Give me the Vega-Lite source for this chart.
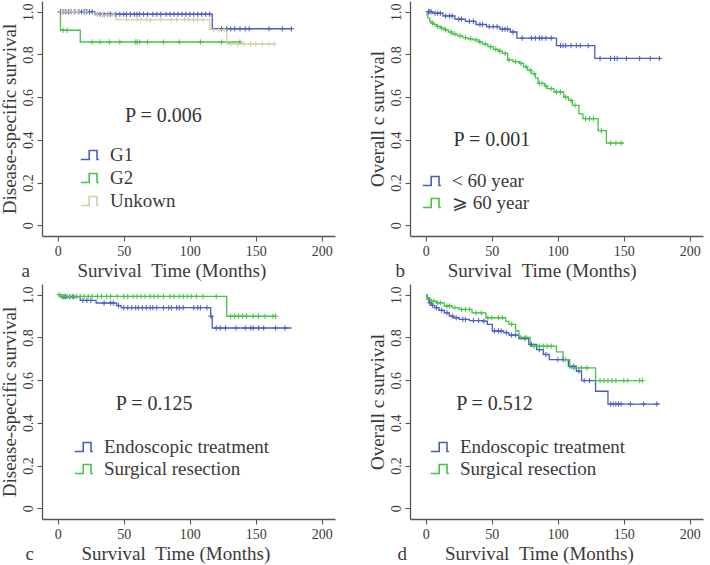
{
  "$schema": "https://vega.github.io/schema/vega-lite/v6.json",
  "padding": {"left": 0, "top": 1, "right": 2, "bottom": 2},
  "background": "white",
  "bounds": "flush",
  "columns": 2,
  "spacing": {"row": 48, "column": 75},
  "config": {
    "view": {"stroke": null},
    "font": "Liberation Serif",
    "axis": {
      "grid": false,
      "labelFont": "Liberation Serif",
      "labelFontSize": 14,
      "labelColor": "#3a3a3a",
      "titleFont": "Liberation Serif",
      "titleFontWeight": "normal",
      "titleColor": "#3a3a3a",
      "domainColor": "#555555",
      "domainWidth": 1.3,
      "tickColor": "#555555",
      "tickWidth": 1.1,
      "tickSize": 5
    },
    "legend": {
      "labelFont": "Liberation Serif",
      "labelFontSize": 19,
      "labelColor": "#3a3a3a",
      "labelLimit": 0,
      "symbolType": "M-1,0.4H-0.25V-0.4H0.45V0.4H0.62",
      "symbolSize": 500,
      "symbolStrokeWidth": 1.6,
      "symbolFillColor": "transparent",
      "rowPadding": 3,
      "labelOffset": 6
    }
  },
  "resolve": {"scale": {"color": "independent"}, "legend": {"color": "independent"}},
  "datasets": {
    "a_lines": [
      {"t": 0, "s": 1.0, "g": "G1"}, {"t": 28, "s": 0.988, "g": "G1"}, {"t": 117, "s": 0.92, "g": "G1"}, {"t": 177, "s": 0.92, "g": "G1"},
      {"t": 0, "s": 1.0, "g": "G2"}, {"t": 2, "s": 0.913, "g": "G2"}, {"t": 17, "s": 0.858, "g": "G2"}, {"t": 138, "s": 0.858, "g": "G2"},
      {"t": 0, "s": 1.0, "g": "Unkown"}, {"t": 28, "s": 0.985, "g": "Unkown"}, {"t": 44, "s": 0.963, "g": "Unkown"}, {"t": 115, "s": 0.916, "g": "Unkown"}, {"t": 128, "s": 0.849, "g": "Unkown"}, {"t": 164, "s": 0.849, "g": "Unkown"}
    ],
    "a_cens": [
      {"t": 2, "s": 1.0, "g": "G1"}, {"t": 4, "s": 1.0, "g": "G1"}, {"t": 6, "s": 1.0, "g": "G1"}, {"t": 8, "s": 1.0, "g": "G1"}, {"t": 10, "s": 1.0, "g": "G1"}, {"t": 13, "s": 1.0, "g": "G1"}, {"t": 16, "s": 1.0, "g": "G1"}, {"t": 18, "s": 1.0, "g": "G1"}, {"t": 20, "s": 1.0, "g": "G1"}, {"t": 22, "s": 1.0, "g": "G1"}, {"t": 24, "s": 1.0, "g": "G1"}, {"t": 26, "s": 1.0, "g": "G1"},
      {"t": 30, "s": 0.988, "g": "G1"}, {"t": 32, "s": 0.988, "g": "G1"}, {"t": 35, "s": 0.988, "g": "G1"}, {"t": 38, "s": 0.988, "g": "G1"}, {"t": 40, "s": 0.988, "g": "G1"}, {"t": 44, "s": 0.988, "g": "G1"}, {"t": 47, "s": 0.988, "g": "G1"}, {"t": 50, "s": 0.988, "g": "G1"}, {"t": 52, "s": 0.988, "g": "G1"}, {"t": 55, "s": 0.988, "g": "G1"}, {"t": 58, "s": 0.988, "g": "G1"}, {"t": 60, "s": 0.988, "g": "G1"}, {"t": 62, "s": 0.988, "g": "G1"}, {"t": 65, "s": 0.988, "g": "G1"}, {"t": 68, "s": 0.988, "g": "G1"}, {"t": 72, "s": 0.988, "g": "G1"}, {"t": 75, "s": 0.988, "g": "G1"}, {"t": 78, "s": 0.988, "g": "G1"}, {"t": 82, "s": 0.988, "g": "G1"}, {"t": 85, "s": 0.988, "g": "G1"}, {"t": 88, "s": 0.988, "g": "G1"}, {"t": 91, "s": 0.988, "g": "G1"}, {"t": 94, "s": 0.988, "g": "G1"}, {"t": 97, "s": 0.988, "g": "G1"}, {"t": 100, "s": 0.988, "g": "G1"}, {"t": 103, "s": 0.988, "g": "G1"}, {"t": 106, "s": 0.988, "g": "G1"}, {"t": 109, "s": 0.988, "g": "G1"}, {"t": 112, "s": 0.988, "g": "G1"}, {"t": 115, "s": 0.988, "g": "G1"},
      {"t": 124, "s": 0.92, "g": "G1"}, {"t": 128, "s": 0.92, "g": "G1"}, {"t": 131, "s": 0.92, "g": "G1"}, {"t": 134, "s": 0.92, "g": "G1"}, {"t": 138, "s": 0.92, "g": "G1"}, {"t": 142, "s": 0.92, "g": "G1"}, {"t": 145, "s": 0.92, "g": "G1"}, {"t": 160, "s": 0.92, "g": "G1"}, {"t": 170, "s": 0.92, "g": "G1"}, {"t": 177, "s": 0.92, "g": "G1"},
      {"t": 4, "s": 0.913, "g": "G2"}, {"t": 7, "s": 0.913, "g": "G2"},
      {"t": 26, "s": 0.858, "g": "G2"}, {"t": 32, "s": 0.858, "g": "G2"}, {"t": 39, "s": 0.858, "g": "G2"}, {"t": 47, "s": 0.858, "g": "G2"}, {"t": 59, "s": 0.858, "g": "G2"}, {"t": 60, "s": 0.858, "g": "G2"}, {"t": 62, "s": 0.858, "g": "G2"}, {"t": 68, "s": 0.858, "g": "G2"}, {"t": 80, "s": 0.858, "g": "G2"}, {"t": 92, "s": 0.858, "g": "G2"}, {"t": 108, "s": 0.858, "g": "G2"}, {"t": 124, "s": 0.858, "g": "G2"}, {"t": 138, "s": 0.858, "g": "G2"},
      {"t": 3, "s": 1.0, "g": "Unkown"}, {"t": 5, "s": 1.0, "g": "Unkown"}, {"t": 9, "s": 1.0, "g": "Unkown"}, {"t": 12, "s": 1.0, "g": "Unkown"}, {"t": 15, "s": 1.0, "g": "Unkown"}, {"t": 21, "s": 1.0, "g": "Unkown"},
      {"t": 30, "s": 0.985, "g": "Unkown"}, {"t": 34, "s": 0.985, "g": "Unkown"}, {"t": 38, "s": 0.985, "g": "Unkown"}, {"t": 42, "s": 0.985, "g": "Unkown"},
      {"t": 52, "s": 0.963, "g": "Unkown"}, {"t": 60, "s": 0.963, "g": "Unkown"}, {"t": 63, "s": 0.963, "g": "Unkown"}, {"t": 67, "s": 0.963, "g": "Unkown"}, {"t": 70, "s": 0.963, "g": "Unkown"}, {"t": 78, "s": 0.963, "g": "Unkown"}, {"t": 86, "s": 0.963, "g": "Unkown"}, {"t": 90, "s": 0.963, "g": "Unkown"}, {"t": 96, "s": 0.963, "g": "Unkown"}, {"t": 99, "s": 0.963, "g": "Unkown"}, {"t": 103, "s": 0.963, "g": "Unkown"}, {"t": 106, "s": 0.963, "g": "Unkown"}, {"t": 110, "s": 0.963, "g": "Unkown"},
      {"t": 118, "s": 0.916, "g": "Unkown"}, {"t": 122, "s": 0.916, "g": "Unkown"}, {"t": 126, "s": 0.916, "g": "Unkown"},
      {"t": 131, "s": 0.849, "g": "Unkown"}, {"t": 136, "s": 0.849, "g": "Unkown"}, {"t": 141, "s": 0.849, "g": "Unkown"}, {"t": 146, "s": 0.849, "g": "Unkown"}, {"t": 150, "s": 0.849, "g": "Unkown"}, {"t": 155, "s": 0.849, "g": "Unkown"}, {"t": 160, "s": 0.849, "g": "Unkown"}, {"t": 164, "s": 0.849, "g": "Unkown"}
    ],
    "b_lines": [
      {"t": 0, "s": 1.0, "g": "< 60 year"}, {"t": 5, "s": 0.993, "g": "< 60 year"}, {"t": 13, "s": 0.98, "g": "< 60 year"}, {"t": 22, "s": 0.965, "g": "< 60 year"}, {"t": 30, "s": 0.955, "g": "< 60 year"}, {"t": 38, "s": 0.94, "g": "< 60 year"}, {"t": 46, "s": 0.93, "g": "< 60 year"}, {"t": 56, "s": 0.918, "g": "< 60 year"}, {"t": 64, "s": 0.905, "g": "< 60 year"}, {"t": 69, "s": 0.876, "g": "< 60 year"}, {"t": 99, "s": 0.841, "g": "< 60 year"}, {"t": 128, "s": 0.781, "g": "< 60 year"}, {"t": 177, "s": 0.781, "g": "< 60 year"},
      {"t": 0, "s": 1.0, "g": "⩾ 60 year"}, {"t": 1, "s": 0.985, "g": "⩾ 60 year"}, {"t": 1.5, "s": 0.97, "g": "⩾ 60 year"}, {"t": 3, "s": 0.955, "g": "⩾ 60 year"}, {"t": 4, "s": 0.947, "g": "⩾ 60 year"}, {"t": 6, "s": 0.94, "g": "⩾ 60 year"}, {"t": 8, "s": 0.931, "g": "⩾ 60 year"}, {"t": 11, "s": 0.923, "g": "⩾ 60 year"}, {"t": 14, "s": 0.915, "g": "⩾ 60 year"}, {"t": 17, "s": 0.905, "g": "⩾ 60 year"}, {"t": 20, "s": 0.895, "g": "⩾ 60 year"}, {"t": 24, "s": 0.887, "g": "⩾ 60 year"}, {"t": 28, "s": 0.879, "g": "⩾ 60 year"}, {"t": 32, "s": 0.873, "g": "⩾ 60 year"}, {"t": 36, "s": 0.868, "g": "⩾ 60 year"}, {"t": 40, "s": 0.858, "g": "⩾ 60 year"}, {"t": 43, "s": 0.848, "g": "⩾ 60 year"}, {"t": 47, "s": 0.836, "g": "⩾ 60 year"}, {"t": 51, "s": 0.824, "g": "⩾ 60 year"}, {"t": 55, "s": 0.815, "g": "⩾ 60 year"}, {"t": 58, "s": 0.805, "g": "⩾ 60 year"}, {"t": 62, "s": 0.774, "g": "⩾ 60 year"}, {"t": 66, "s": 0.766, "g": "⩾ 60 year"}, {"t": 71, "s": 0.758, "g": "⩾ 60 year"}, {"t": 74, "s": 0.742, "g": "⩾ 60 year"}, {"t": 77, "s": 0.726, "g": "⩾ 60 year"}, {"t": 80, "s": 0.71, "g": "⩾ 60 year"}, {"t": 83, "s": 0.69, "g": "⩾ 60 year"}, {"t": 85, "s": 0.664, "g": "⩾ 60 year"}, {"t": 90, "s": 0.652, "g": "⩾ 60 year"}, {"t": 92, "s": 0.64, "g": "⩾ 60 year"}, {"t": 97, "s": 0.624, "g": "⩾ 60 year"}, {"t": 104.5, "s": 0.6, "g": "⩾ 60 year"}, {"t": 108, "s": 0.585, "g": "⩾ 60 year"}, {"t": 111, "s": 0.561, "g": "⩾ 60 year"}, {"t": 116, "s": 0.522, "g": "⩾ 60 year"}, {"t": 119, "s": 0.499, "g": "⩾ 60 year"}, {"t": 130.5, "s": 0.443, "g": "⩾ 60 year"}, {"t": 136.8, "s": 0.385, "g": "⩾ 60 year"}, {"t": 150, "s": 0.385, "g": "⩾ 60 year"}
    ],
    "b_cens": [
      {"t": 2, "s": 1.0, "g": "< 60 year"}, {"t": 3, "s": 1.0, "g": "< 60 year"}, {"t": 4, "s": 1.0, "g": "< 60 year"}, {"t": 7, "s": 0.993, "g": "< 60 year"}, {"t": 9, "s": 0.993, "g": "< 60 year"}, {"t": 11, "s": 0.993, "g": "< 60 year"}, {"t": 15, "s": 0.98, "g": "< 60 year"}, {"t": 18, "s": 0.98, "g": "< 60 year"}, {"t": 20, "s": 0.98, "g": "< 60 year"}, {"t": 25, "s": 0.965, "g": "< 60 year"}, {"t": 27, "s": 0.965, "g": "< 60 year"}, {"t": 33, "s": 0.955, "g": "< 60 year"}, {"t": 36, "s": 0.955, "g": "< 60 year"}, {"t": 41, "s": 0.94, "g": "< 60 year"}, {"t": 43, "s": 0.94, "g": "< 60 year"}, {"t": 48, "s": 0.93, "g": "< 60 year"}, {"t": 51, "s": 0.93, "g": "< 60 year"}, {"t": 54, "s": 0.93, "g": "< 60 year"}, {"t": 58, "s": 0.918, "g": "< 60 year"}, {"t": 60, "s": 0.918, "g": "< 60 year"}, {"t": 62, "s": 0.918, "g": "< 60 year"}, {"t": 66, "s": 0.905, "g": "< 60 year"},
      {"t": 73, "s": 0.876, "g": "< 60 year"}, {"t": 80, "s": 0.876, "g": "< 60 year"}, {"t": 83, "s": 0.876, "g": "< 60 year"}, {"t": 86, "s": 0.876, "g": "< 60 year"}, {"t": 88, "s": 0.876, "g": "< 60 year"}, {"t": 91, "s": 0.876, "g": "< 60 year"}, {"t": 95, "s": 0.876, "g": "< 60 year"},
      {"t": 102, "s": 0.841, "g": "< 60 year"}, {"t": 104, "s": 0.841, "g": "< 60 year"}, {"t": 106, "s": 0.841, "g": "< 60 year"}, {"t": 110, "s": 0.841, "g": "< 60 year"}, {"t": 114, "s": 0.841, "g": "< 60 year"}, {"t": 117, "s": 0.841, "g": "< 60 year"}, {"t": 123, "s": 0.841, "g": "< 60 year"},
      {"t": 132, "s": 0.781, "g": "< 60 year"}, {"t": 140, "s": 0.781, "g": "< 60 year"}, {"t": 143, "s": 0.781, "g": "< 60 year"}, {"t": 145, "s": 0.781, "g": "< 60 year"}, {"t": 152, "s": 0.781, "g": "< 60 year"}, {"t": 162, "s": 0.781, "g": "< 60 year"}, {"t": 170, "s": 0.781, "g": "< 60 year"}, {"t": 177, "s": 0.781, "g": "< 60 year"},
      {"t": 5, "s": 0.947, "g": "⩾ 60 year"}, {"t": 9, "s": 0.931, "g": "⩾ 60 year"}, {"t": 12, "s": 0.923, "g": "⩾ 60 year"}, {"t": 15, "s": 0.915, "g": "⩾ 60 year"}, {"t": 19, "s": 0.905, "g": "⩾ 60 year"}, {"t": 22, "s": 0.895, "g": "⩾ 60 year"}, {"t": 26, "s": 0.887, "g": "⩾ 60 year"}, {"t": 30, "s": 0.879, "g": "⩾ 60 year"}, {"t": 34, "s": 0.873, "g": "⩾ 60 year"}, {"t": 38, "s": 0.868, "g": "⩾ 60 year"}, {"t": 41, "s": 0.858, "g": "⩾ 60 year"}, {"t": 45, "s": 0.848, "g": "⩾ 60 year"}, {"t": 49, "s": 0.836, "g": "⩾ 60 year"}, {"t": 53, "s": 0.824, "g": "⩾ 60 year"}, {"t": 56, "s": 0.815, "g": "⩾ 60 year"}, {"t": 60, "s": 0.805, "g": "⩾ 60 year"}, {"t": 63, "s": 0.774, "g": "⩾ 60 year"}, {"t": 68, "s": 0.766, "g": "⩾ 60 year"}, {"t": 72, "s": 0.758, "g": "⩾ 60 year"}, {"t": 76, "s": 0.742, "g": "⩾ 60 year"}, {"t": 79, "s": 0.726, "g": "⩾ 60 year"}, {"t": 82, "s": 0.71, "g": "⩾ 60 year"}, {"t": 86, "s": 0.664, "g": "⩾ 60 year"}, {"t": 88, "s": 0.664, "g": "⩾ 60 year"}, {"t": 91, "s": 0.652, "g": "⩾ 60 year"}, {"t": 95, "s": 0.64, "g": "⩾ 60 year"}, {"t": 99, "s": 0.624, "g": "⩾ 60 year"}, {"t": 102, "s": 0.624, "g": "⩾ 60 year"}, {"t": 106, "s": 0.6, "g": "⩾ 60 year"}, {"t": 110, "s": 0.585, "g": "⩾ 60 year"}, {"t": 113, "s": 0.561, "g": "⩾ 60 year"}, {"t": 121, "s": 0.499, "g": "⩾ 60 year"}, {"t": 124, "s": 0.499, "g": "⩾ 60 year"}, {"t": 127, "s": 0.499, "g": "⩾ 60 year"}, {"t": 133, "s": 0.443, "g": "⩾ 60 year"}, {"t": 140, "s": 0.385, "g": "⩾ 60 year"}, {"t": 144, "s": 0.385, "g": "⩾ 60 year"}, {"t": 148, "s": 0.385, "g": "⩾ 60 year"}
    ],
    "c_lines": [
      {"t": 0, "s": 1.0, "g": "Endoscopic treatment"}, {"t": 2, "s": 0.99, "g": "Endoscopic treatment"}, {"t": 17, "s": 0.973, "g": "Endoscopic treatment"}, {"t": 29, "s": 0.961, "g": "Endoscopic treatment"}, {"t": 44.5, "s": 0.949, "g": "Endoscopic treatment"}, {"t": 48, "s": 0.939, "g": "Endoscopic treatment"}, {"t": 115.8, "s": 0.899, "g": "Endoscopic treatment"}, {"t": 117, "s": 0.844, "g": "Endoscopic treatment"}, {"t": 177, "s": 0.844, "g": "Endoscopic treatment"},
      {"t": 0, "s": 1.0, "g": "Surgical resection"}, {"t": 2, "s": 0.992, "g": "Surgical resection"}, {"t": 128, "s": 0.899, "g": "Surgical resection"}, {"t": 165, "s": 0.899, "g": "Surgical resection"}
    ],
    "c_cens": [
      {"t": 4, "s": 0.99, "g": "Endoscopic treatment"}, {"t": 6, "s": 0.99, "g": "Endoscopic treatment"}, {"t": 9, "s": 0.99, "g": "Endoscopic treatment"}, {"t": 12, "s": 0.99, "g": "Endoscopic treatment"}, {"t": 19, "s": 0.973, "g": "Endoscopic treatment"}, {"t": 22, "s": 0.973, "g": "Endoscopic treatment"}, {"t": 25, "s": 0.973, "g": "Endoscopic treatment"}, {"t": 35, "s": 0.961, "g": "Endoscopic treatment"}, {"t": 40, "s": 0.961, "g": "Endoscopic treatment"}, {"t": 42, "s": 0.961, "g": "Endoscopic treatment"}, {"t": 46, "s": 0.949, "g": "Endoscopic treatment"},
      {"t": 50, "s": 0.939, "g": "Endoscopic treatment"}, {"t": 53, "s": 0.939, "g": "Endoscopic treatment"}, {"t": 56, "s": 0.939, "g": "Endoscopic treatment"}, {"t": 59, "s": 0.939, "g": "Endoscopic treatment"}, {"t": 61, "s": 0.939, "g": "Endoscopic treatment"}, {"t": 64, "s": 0.939, "g": "Endoscopic treatment"}, {"t": 67, "s": 0.939, "g": "Endoscopic treatment"}, {"t": 70, "s": 0.939, "g": "Endoscopic treatment"}, {"t": 72, "s": 0.939, "g": "Endoscopic treatment"}, {"t": 75, "s": 0.939, "g": "Endoscopic treatment"}, {"t": 80, "s": 0.939, "g": "Endoscopic treatment"}, {"t": 84, "s": 0.939, "g": "Endoscopic treatment"}, {"t": 86, "s": 0.939, "g": "Endoscopic treatment"}, {"t": 90, "s": 0.939, "g": "Endoscopic treatment"}, {"t": 92, "s": 0.939, "g": "Endoscopic treatment"}, {"t": 95, "s": 0.939, "g": "Endoscopic treatment"}, {"t": 103, "s": 0.939, "g": "Endoscopic treatment"}, {"t": 106, "s": 0.939, "g": "Endoscopic treatment"}, {"t": 108, "s": 0.939, "g": "Endoscopic treatment"}, {"t": 113, "s": 0.939, "g": "Endoscopic treatment"}, {"t": 116, "s": 0.899, "g": "Endoscopic treatment"},
      {"t": 120, "s": 0.844, "g": "Endoscopic treatment"}, {"t": 123, "s": 0.844, "g": "Endoscopic treatment"}, {"t": 127, "s": 0.844, "g": "Endoscopic treatment"}, {"t": 135, "s": 0.844, "g": "Endoscopic treatment"}, {"t": 142, "s": 0.844, "g": "Endoscopic treatment"}, {"t": 146, "s": 0.844, "g": "Endoscopic treatment"}, {"t": 148, "s": 0.844, "g": "Endoscopic treatment"}, {"t": 152, "s": 0.844, "g": "Endoscopic treatment"}, {"t": 156, "s": 0.844, "g": "Endoscopic treatment"}, {"t": 165, "s": 0.844, "g": "Endoscopic treatment"}, {"t": 172, "s": 0.844, "g": "Endoscopic treatment"},
      {"t": 1, "s": 1.0, "g": "Surgical resection"}, {"t": 3, "s": 0.992, "g": "Surgical resection"}, {"t": 5, "s": 0.992, "g": "Surgical resection"}, {"t": 7, "s": 0.992, "g": "Surgical resection"}, {"t": 9, "s": 0.992, "g": "Surgical resection"}, {"t": 11, "s": 0.992, "g": "Surgical resection"}, {"t": 14, "s": 0.992, "g": "Surgical resection"}, {"t": 17, "s": 0.992, "g": "Surgical resection"}, {"t": 20, "s": 0.992, "g": "Surgical resection"}, {"t": 23, "s": 0.992, "g": "Surgical resection"}, {"t": 26, "s": 0.992, "g": "Surgical resection"}, {"t": 30, "s": 0.992, "g": "Surgical resection"}, {"t": 33, "s": 0.992, "g": "Surgical resection"}, {"t": 37, "s": 0.992, "g": "Surgical resection"}, {"t": 40, "s": 0.992, "g": "Surgical resection"}, {"t": 45, "s": 0.992, "g": "Surgical resection"}, {"t": 50, "s": 0.992, "g": "Surgical resection"}, {"t": 53, "s": 0.992, "g": "Surgical resection"}, {"t": 57, "s": 0.992, "g": "Surgical resection"}, {"t": 60, "s": 0.992, "g": "Surgical resection"}, {"t": 63, "s": 0.992, "g": "Surgical resection"}, {"t": 66, "s": 0.992, "g": "Surgical resection"}, {"t": 70, "s": 0.992, "g": "Surgical resection"}, {"t": 73, "s": 0.992, "g": "Surgical resection"}, {"t": 76, "s": 0.992, "g": "Surgical resection"}, {"t": 80, "s": 0.992, "g": "Surgical resection"}, {"t": 85, "s": 0.992, "g": "Surgical resection"}, {"t": 88, "s": 0.992, "g": "Surgical resection"}, {"t": 92, "s": 0.992, "g": "Surgical resection"}, {"t": 95, "s": 0.992, "g": "Surgical resection"}, {"t": 98, "s": 0.992, "g": "Surgical resection"}, {"t": 101, "s": 0.992, "g": "Surgical resection"}, {"t": 105, "s": 0.992, "g": "Surgical resection"}, {"t": 110, "s": 0.992, "g": "Surgical resection"}, {"t": 120, "s": 0.992, "g": "Surgical resection"},
      {"t": 131, "s": 0.899, "g": "Surgical resection"}, {"t": 134, "s": 0.899, "g": "Surgical resection"}, {"t": 137, "s": 0.899, "g": "Surgical resection"}, {"t": 140, "s": 0.899, "g": "Surgical resection"}, {"t": 143, "s": 0.899, "g": "Surgical resection"}, {"t": 148, "s": 0.899, "g": "Surgical resection"}, {"t": 152, "s": 0.899, "g": "Surgical resection"}, {"t": 157, "s": 0.899, "g": "Surgical resection"}, {"t": 163, "s": 0.899, "g": "Surgical resection"}, {"t": 165, "s": 0.899, "g": "Surgical resection"}
    ],
    "d_lines": [
      {"t": 0, "s": 1.0, "g": "Endoscopic treatment"}, {"t": 1, "s": 0.985, "g": "Endoscopic treatment"}, {"t": 2.8, "s": 0.962, "g": "Endoscopic treatment"}, {"t": 4, "s": 0.95, "g": "Endoscopic treatment"}, {"t": 6.6, "s": 0.939, "g": "Endoscopic treatment"}, {"t": 10, "s": 0.927, "g": "Endoscopic treatment"}, {"t": 14, "s": 0.915, "g": "Endoscopic treatment"}, {"t": 17.8, "s": 0.9, "g": "Endoscopic treatment"}, {"t": 21, "s": 0.892, "g": "Endoscopic treatment"}, {"t": 25.3, "s": 0.884, "g": "Endoscopic treatment"}, {"t": 33, "s": 0.879, "g": "Endoscopic treatment"}, {"t": 43, "s": 0.876, "g": "Endoscopic treatment"}, {"t": 46.6, "s": 0.861, "g": "Endoscopic treatment"}, {"t": 50.4, "s": 0.83, "g": "Endoscopic treatment"}, {"t": 59, "s": 0.822, "g": "Endoscopic treatment"}, {"t": 63, "s": 0.811, "g": "Endoscopic treatment"}, {"t": 70.4, "s": 0.795, "g": "Endoscopic treatment"}, {"t": 78, "s": 0.767, "g": "Endoscopic treatment"}, {"t": 84, "s": 0.743, "g": "Endoscopic treatment"}, {"t": 89, "s": 0.72, "g": "Endoscopic treatment"}, {"t": 93.5, "s": 0.696, "g": "Endoscopic treatment"}, {"t": 108, "s": 0.665, "g": "Endoscopic treatment"}, {"t": 114, "s": 0.642, "g": "Endoscopic treatment"}, {"t": 118, "s": 0.598, "g": "Endoscopic treatment"}, {"t": 128.6, "s": 0.548, "g": "Endoscopic treatment"}, {"t": 138, "s": 0.488, "g": "Endoscopic treatment"}, {"t": 177, "s": 0.488, "g": "Endoscopic treatment"},
      {"t": 0, "s": 1.0, "g": "Surgical resection"}, {"t": 1, "s": 0.978, "g": "Surgical resection"}, {"t": 4, "s": 0.97, "g": "Surgical resection"}, {"t": 7.8, "s": 0.962, "g": "Surgical resection"}, {"t": 14, "s": 0.947, "g": "Surgical resection"}, {"t": 20, "s": 0.939, "g": "Surgical resection"}, {"t": 25, "s": 0.931, "g": "Surgical resection"}, {"t": 35, "s": 0.915, "g": "Surgical resection"}, {"t": 45.5, "s": 0.892, "g": "Surgical resection"}, {"t": 60.4, "s": 0.875, "g": "Surgical resection"}, {"t": 63, "s": 0.861, "g": "Surgical resection"}, {"t": 68, "s": 0.83, "g": "Surgical resection"}, {"t": 70.5, "s": 0.8, "g": "Surgical resection"}, {"t": 79, "s": 0.759, "g": "Surgical resection"}, {"t": 99, "s": 0.732, "g": "Surgical resection"}, {"t": 104, "s": 0.696, "g": "Surgical resection"}, {"t": 109, "s": 0.657, "g": "Surgical resection"}, {"t": 128.6, "s": 0.598, "g": "Surgical resection"}, {"t": 164, "s": 0.598, "g": "Surgical resection"}
    ],
    "d_cens": [
      {"t": 3, "s": 0.962, "g": "Endoscopic treatment"}, {"t": 5, "s": 0.95, "g": "Endoscopic treatment"}, {"t": 8, "s": 0.939, "g": "Endoscopic treatment"}, {"t": 12, "s": 0.927, "g": "Endoscopic treatment"}, {"t": 16, "s": 0.915, "g": "Endoscopic treatment"}, {"t": 20, "s": 0.9, "g": "Endoscopic treatment"}, {"t": 23, "s": 0.892, "g": "Endoscopic treatment"}, {"t": 28, "s": 0.884, "g": "Endoscopic treatment"}, {"t": 30, "s": 0.884, "g": "Endoscopic treatment"}, {"t": 36, "s": 0.879, "g": "Endoscopic treatment"}, {"t": 40, "s": 0.879, "g": "Endoscopic treatment"}, {"t": 44, "s": 0.876, "g": "Endoscopic treatment"}, {"t": 52, "s": 0.83, "g": "Endoscopic treatment"}, {"t": 55, "s": 0.83, "g": "Endoscopic treatment"}, {"t": 57, "s": 0.83, "g": "Endoscopic treatment"}, {"t": 61, "s": 0.822, "g": "Endoscopic treatment"}, {"t": 65, "s": 0.811, "g": "Endoscopic treatment"}, {"t": 68, "s": 0.811, "g": "Endoscopic treatment"}, {"t": 75, "s": 0.795, "g": "Endoscopic treatment"}, {"t": 80, "s": 0.767, "g": "Endoscopic treatment"}, {"t": 86, "s": 0.743, "g": "Endoscopic treatment"}, {"t": 91, "s": 0.72, "g": "Endoscopic treatment"}, {"t": 100, "s": 0.696, "g": "Endoscopic treatment"}, {"t": 104, "s": 0.696, "g": "Endoscopic treatment"}, {"t": 112, "s": 0.665, "g": "Endoscopic treatment"}, {"t": 116, "s": 0.642, "g": "Endoscopic treatment"}, {"t": 120, "s": 0.598, "g": "Endoscopic treatment"}, {"t": 124, "s": 0.598, "g": "Endoscopic treatment"}, {"t": 140, "s": 0.488, "g": "Endoscopic treatment"}, {"t": 142, "s": 0.488, "g": "Endoscopic treatment"}, {"t": 144, "s": 0.488, "g": "Endoscopic treatment"}, {"t": 146, "s": 0.488, "g": "Endoscopic treatment"}, {"t": 148, "s": 0.488, "g": "Endoscopic treatment"}, {"t": 155, "s": 0.488, "g": "Endoscopic treatment"}, {"t": 165, "s": 0.488, "g": "Endoscopic treatment"}, {"t": 175, "s": 0.488, "g": "Endoscopic treatment"},
      {"t": 2, "s": 0.978, "g": "Surgical resection"}, {"t": 6, "s": 0.97, "g": "Surgical resection"}, {"t": 9, "s": 0.962, "g": "Surgical resection"}, {"t": 11, "s": 0.962, "g": "Surgical resection"}, {"t": 16, "s": 0.947, "g": "Surgical resection"}, {"t": 18, "s": 0.947, "g": "Surgical resection"}, {"t": 22, "s": 0.939, "g": "Surgical resection"}, {"t": 27, "s": 0.931, "g": "Surgical resection"}, {"t": 30, "s": 0.931, "g": "Surgical resection"}, {"t": 33, "s": 0.931, "g": "Surgical resection"}, {"t": 38, "s": 0.915, "g": "Surgical resection"}, {"t": 42, "s": 0.915, "g": "Surgical resection"}, {"t": 47, "s": 0.892, "g": "Surgical resection"}, {"t": 50, "s": 0.892, "g": "Surgical resection"}, {"t": 55, "s": 0.892, "g": "Surgical resection"}, {"t": 58, "s": 0.892, "g": "Surgical resection"}, {"t": 65, "s": 0.861, "g": "Surgical resection"}, {"t": 72, "s": 0.8, "g": "Surgical resection"}, {"t": 76, "s": 0.8, "g": "Surgical resection"}, {"t": 82, "s": 0.759, "g": "Surgical resection"}, {"t": 86, "s": 0.759, "g": "Surgical resection"}, {"t": 89, "s": 0.759, "g": "Surgical resection"}, {"t": 92, "s": 0.759, "g": "Surgical resection"}, {"t": 95, "s": 0.759, "g": "Surgical resection"}, {"t": 106, "s": 0.696, "g": "Surgical resection"}, {"t": 112, "s": 0.657, "g": "Surgical resection"}, {"t": 118, "s": 0.657, "g": "Surgical resection"}, {"t": 122, "s": 0.657, "g": "Surgical resection"}, {"t": 132, "s": 0.598, "g": "Surgical resection"}, {"t": 135, "s": 0.598, "g": "Surgical resection"}, {"t": 138, "s": 0.598, "g": "Surgical resection"}, {"t": 141, "s": 0.598, "g": "Surgical resection"}, {"t": 144, "s": 0.598, "g": "Surgical resection"}, {"t": 150, "s": 0.598, "g": "Surgical resection"}, {"t": 153, "s": 0.598, "g": "Surgical resection"}, {"t": 162, "s": 0.598, "g": "Surgical resection"}, {"t": 164, "s": 0.598, "g": "Surgical resection"}
    ]
  },
  "concat": [
    {
      "width": 293, "height": 235,
      "layer": [
        {
          "data": {"name": "a_lines"},
          "mark": {"type": "line", "interpolate": "step-after", "strokeWidth": 1.3},
          "encoding": {
            "x": {"field": "t", "type": "quantitative", "scale": {"domain": [-12, 210], "nice": false, "zero": false},
                  "axis": {"values": [0, 50, 100, 150, 200], "title": "a\u00a0\u00a0\u00a0\u00a0\u00a0\u00a0\u00a0\u00a0\u00a0\u00a0Survival\u00a0\u00a0Time (Months)", "titleFontSize": 19, "titleX": -21, "titleY": 40, "titleAlign": "left", "titleBaseline": "alphabetic", "labelPadding": 3}},
            "y": {"field": "s", "type": "quantitative", "scale": {"domain": [-0.05, 1.05], "nice": false, "zero": false},
                  "axis": {"values": [0, 0.2, 0.4, 0.6, 0.8, 1.0], "labelExpr": "datum.value == 0 ? '0' : format(datum.value, '.1f')", "labelAngle": -90, "labelAlign": "center", "labelBaseline": "bottom", "labelPadding": 2, "title": "Disease-specific survival", "titleFontSize": 19, "titlePadding": 2}},
            "color": {"field": "g", "type": "nominal", "scale": {"domain": ["G1", "G2", "Unkown"], "range": ["#4a5cc6", "#45c445", "#d6cf9e"]},
                      "legend": {"title": null, "orient": "none", "legendX": 38, "legendY": 142, "rowPadding": 1}}
          }
        },
        {
          "data": {"name": "a_cens"},
          "mark": {"type": "point", "shape": "M0,-1V1M-1,0H1", "filled": false, "size": 28, "strokeWidth": 1, "opacity": 1},
          "encoding": {
            "x": {"field": "t", "type": "quantitative"},
            "y": {"field": "s", "type": "quantitative"},
            "color": {"field": "g", "type": "nominal"}
          }
        },
        {
          "data": {"values": [{"t": 80, "s": 0.51, "label": "P = 0.006"}]},
          "mark": {"type": "text", "font": "Liberation Serif", "fontSize": 20, "color": "#333333"},
          "encoding": {"x": {"field": "t", "type": "quantitative"}, "y": {"field": "s", "type": "quantitative"}, "text": {"field": "label"}}
        }
      ]
    },
    {
      "width": 293, "height": 235,
      "layer": [
        {
          "data": {"name": "b_lines"},
          "mark": {"type": "line", "interpolate": "step-after", "strokeWidth": 1.3},
          "encoding": {
            "x": {"field": "t", "type": "quantitative", "scale": {"domain": [-12, 210], "nice": false, "zero": false},
                  "axis": {"values": [0, 50, 100, 150, 200], "title": "b\u00a0\u00a0\u00a0\u00a0\u00a0\u00a0\u00a0\u00a0\u00a0Survival\u00a0\u00a0Time (Months)", "titleFontSize": 19, "titleX": -15, "titleY": 40, "titleAlign": "left", "titleBaseline": "alphabetic", "labelPadding": 3}},
            "y": {"field": "s", "type": "quantitative", "scale": {"domain": [-0.05, 1.05], "nice": false, "zero": false},
                  "axis": {"values": [0, 0.2, 0.4, 0.6, 0.8, 1.0], "labelExpr": "datum.value == 0 ? '0' : format(datum.value, '.1f')", "labelAngle": -90, "labelAlign": "center", "labelBaseline": "bottom", "labelPadding": 2, "title": "Overall c survival", "titleFontSize": 19, "titlePadding": 2}},
            "color": {"field": "g", "type": "nominal", "scale": {"domain": ["< 60 year", "⩾ 60 year"], "range": ["#4a5cc6", "#45c445"]},
                      "legend": {"title": null, "orient": "none", "legendX": 12, "legendY": 168, "rowPadding": 0}}
          }
        },
        {
          "data": {"name": "b_cens"},
          "mark": {"type": "point", "shape": "M0,-1V1M-1,0H1", "filled": false, "size": 28, "strokeWidth": 1, "opacity": 1},
          "encoding": {
            "x": {"field": "t", "type": "quantitative"},
            "y": {"field": "s", "type": "quantitative"},
            "color": {"field": "g", "type": "nominal"}
          }
        },
        {
          "data": {"values": [{"t": 50, "s": 0.4, "label": "P = 0.001"}]},
          "mark": {"type": "text", "font": "Liberation Serif", "fontSize": 20, "color": "#333333"},
          "encoding": {"x": {"field": "t", "type": "quantitative"}, "y": {"field": "s", "type": "quantitative"}, "text": {"field": "label"}}
        }
      ]
    },
    {
      "width": 293, "height": 235,
      "layer": [
        {
          "data": {"name": "c_lines"},
          "mark": {"type": "line", "interpolate": "step-after", "strokeWidth": 1.3},
          "encoding": {
            "x": {"field": "t", "type": "quantitative", "scale": {"domain": [-12, 210], "nice": false, "zero": false},
                  "axis": {"values": [0, 50, 100, 150, 200], "title": "c\u00a0\u00a0\u00a0\u00a0\u00a0\u00a0\u00a0\u00a0\u00a0\u00a0Survival\u00a0\u00a0Time (Months)", "titleFontSize": 19, "titleX": -17, "titleY": 40, "titleAlign": "left", "titleBaseline": "alphabetic", "labelPadding": 3}},
            "y": {"field": "s", "type": "quantitative", "scale": {"domain": [-0.05, 1.05], "nice": false, "zero": false},
                  "axis": {"values": [0, 0.2, 0.4, 0.6, 0.8, 1.0], "labelExpr": "datum.value == 0 ? '0' : format(datum.value, '.1f')", "labelAngle": -90, "labelAlign": "center", "labelBaseline": "bottom", "labelPadding": 2, "title": "Disease-specific survival", "titleFontSize": 19, "titlePadding": 2}},
            "color": {"field": "g", "type": "nominal", "scale": {"domain": ["Endoscopic treatment", "Surgical resection"], "range": ["#4a5cc6", "#45c445"]},
                      "legend": {"title": null, "orient": "none", "legendX": 32, "legendY": 151, "rowPadding": 0}}
          }
        },
        {
          "data": {"name": "c_cens"},
          "mark": {"type": "point", "shape": "M0,-1V1M-1,0H1", "filled": false, "size": 28, "strokeWidth": 1, "opacity": 1},
          "encoding": {
            "x": {"field": "t", "type": "quantitative"},
            "y": {"field": "s", "type": "quantitative"},
            "color": {"field": "g", "type": "nominal"}
          }
        },
        {
          "data": {"values": [{"t": 73, "s": 0.486, "label": "P = 0.125"}]},
          "mark": {"type": "text", "font": "Liberation Serif", "fontSize": 20, "color": "#333333"},
          "encoding": {"x": {"field": "t", "type": "quantitative"}, "y": {"field": "s", "type": "quantitative"}, "text": {"field": "label"}}
        }
      ]
    },
    {
      "width": 293, "height": 235,
      "layer": [
        {
          "data": {"name": "d_lines"},
          "mark": {"type": "line", "interpolate": "step-after", "strokeWidth": 1.3},
          "encoding": {
            "x": {"field": "t", "type": "quantitative", "scale": {"domain": [-12, 210], "nice": false, "zero": false},
                  "axis": {"values": [0, 50, 100, 150, 200], "title": "d\u00a0\u00a0\u00a0\u00a0\u00a0\u00a0\u00a0\u00a0Survival\u00a0\u00a0Time (Months)", "titleFontSize": 19, "titleX": -13, "titleY": 40, "titleAlign": "left", "titleBaseline": "alphabetic", "labelPadding": 3}},
            "y": {"field": "s", "type": "quantitative", "scale": {"domain": [-0.05, 1.05], "nice": false, "zero": false},
                  "axis": {"values": [0, 0.2, 0.4, 0.6, 0.8, 1.0], "labelExpr": "datum.value == 0 ? '0' : format(datum.value, '.1f')", "labelAngle": -90, "labelAlign": "center", "labelBaseline": "bottom", "labelPadding": 2, "title": "Overall c survival", "titleFontSize": 19, "titlePadding": 2}},
            "color": {"field": "g", "type": "nominal", "scale": {"domain": ["Endoscopic treatment", "Surgical resection"], "range": ["#4a5cc6", "#45c445"]},
                      "legend": {"title": null, "orient": "none", "legendX": 20, "legendY": 151, "rowPadding": 0}}
          }
        },
        {
          "data": {"name": "d_cens"},
          "mark": {"type": "point", "shape": "M0,-1V1M-1,0H1", "filled": false, "size": 28, "strokeWidth": 1, "opacity": 1},
          "encoding": {
            "x": {"field": "t", "type": "quantitative"},
            "y": {"field": "s", "type": "quantitative"},
            "color": {"field": "g", "type": "nominal"}
          }
        },
        {
          "data": {"values": [{"t": 52, "s": 0.49, "label": "P = 0.512"}]},
          "mark": {"type": "text", "font": "Liberation Serif", "fontSize": 20, "color": "#333333"},
          "encoding": {"x": {"field": "t", "type": "quantitative"}, "y": {"field": "s", "type": "quantitative"}, "text": {"field": "label"}}
        }
      ]
    }
  ]
}
